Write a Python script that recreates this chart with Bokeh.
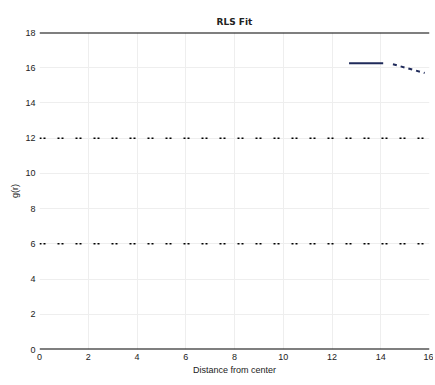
from bokeh.plotting import figure
from bokeh.models import Span, FixedTicker
from bokeh.embed import file_html
from bokeh.resources import INLINE

# data
solid_x = [12.7, 14.1]
solid_y = [16.25, 16.25]
dash_x = [14.5, 15.8]
dash_y = [16.2, 15.7]
ref_levels_bold = [0, 18]
ref_levels_dot = [6, 12]
x_ticks = [0, 2, 4, 6, 8, 10, 12, 14, 16]
y_ticks = [0, 2, 4, 6, 8, 10, 12, 14, 16, 18]

p = figure(frame_width=390, frame_height=317, output_backend="svg", toolbar_location=None,
           x_range=(0, 16), y_range=(0, 18), title="RLS Fit",
           min_border_left=39, min_border_right=4, min_border_top=32,
           min_border_bottom=0)
p.title.align = "center"
p.title.text_font_size = "9px"
p.title.text_font = "DejaVu Sans"
p.title.text_color = "#222222"
p.title.standoff = 12
p.outline_line_color = None

p.line(solid_x, solid_y, line_color="#1f2a5a", line_width=2)
p.line(dash_x, dash_y, line_color="#1f2a5a", line_width=2, line_dash="4 4")

for lv in ref_levels_bold:
    p.add_layout(Span(location=lv, dimension="width", line_color="black", line_width=2))
for lv in ref_levels_dot:
    p.add_layout(Span(location=lv, dimension="width", line_color="black", line_width=1.5, line_dash="2 2 2 12"))

p.xaxis.ticker = FixedTicker(ticks=x_ticks)
p.yaxis.ticker = FixedTicker(ticks=y_ticks)
for ax in (p.xaxis[0], p.yaxis[0]):
    ax.axis_line_color = None
    ax.major_tick_line_color = None
    ax.minor_tick_line_color = None
    ax.major_tick_out = 0
    ax.major_tick_in = 0
    ax.minor_tick_out = 0
    ax.major_label_text_font_size = "9px"
    ax.major_label_text_color = "#222222"
    ax.axis_label_text_font_size = "9px"
    ax.axis_label_text_color = "#222222"
    ax.axis_label_text_font_style = "normal"
    ax.major_label_standoff = 4
    ax.axis_label_standoff = 2
p.xaxis.axis_label = "Distance from center"
p.yaxis.axis_label = "g(r)"
p.xgrid.grid_line_color = "#eeeeee"
p.ygrid.grid_line_color = "#eeeeee"

open("out.html", "w").write(file_html(p, INLINE))
